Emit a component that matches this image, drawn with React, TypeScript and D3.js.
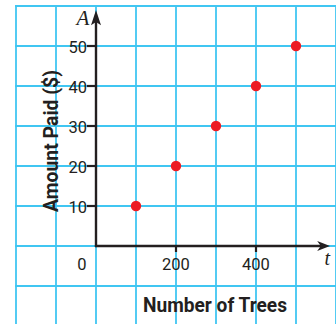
import React from "react";
import * as d3 from "d3";

const trees = [100, 200, 300, 400, 500];
const paid = [10, 20, 30, 40, 50];
const xTickValues = [200, 400];
const yTickValues = [10, 20, 30, 40, 50];
const xGridValues = [-200, -100, 0, 100, 200, 300, 400, 500, 600];
const yGridValues = [-20, -10, 0, 10, 20, 30, 40, 50, 60];

const W = 336;
const H = 324;

export default function App() {
  const x = d3.scaleLinear().domain([0, 100]).range([96, 136]);
  const y = d3.scaleLinear().domain([0, 10]).range([246, 206]);
  const gridColor = "#40c6f2";
  const ink = "#231f20";
  const gridTop = y(60);
  const gridLeft = x(-200);
  const gridRight = x(600);
  const tickFont = "Roboto, 'Open Sans', sans-serif";
  const x0 = x(0);
  const y0 = y(0);
  return (
    <svg
      width={W}
      height={H}
      style={{ position: "absolute", left: 0, top: 0, background: "#fff" }}
    >
      {/* grid */}
      {xGridValues.map((v) => (
        <line
          key={"gx" + v}
          x1={x(v)}
          x2={x(v)}
          y1={gridTop - 0.9}
          y2={H}
          stroke={gridColor}
          strokeWidth={1.8}
        />
      ))}
      {yGridValues.map((v) => (
        <line
          key={"gy" + v}
          x1={gridLeft - 0.9}
          x2={gridRight}
          y1={y(v)}
          y2={y(v)}
          stroke={gridColor}
          strokeWidth={1.8}
        />
      ))}
      {/* axes */}
      <line x1={x0} x2={x0} y1={y0 + 1.1} y2={y(56)} stroke={ink} strokeWidth={2.4} />
      <path
        d={`M${x0},${y(59)} L${x0 - 5},${y(55.2)} L${x0},${y(56)} L${x0 + 5},${y(55.2)} Z`}
        fill={ink}
      />
      <line x1={x0 - 1.1} x2={x(565)} y1={y0} y2={y0} stroke={ink} strokeWidth={2.4} />
      <path
        d={`M${x(585)},${y0} L${x(553)},${y0 - 5} L${x(562)},${y0} L${x(553)},${y0 + 5} Z`}
        fill={ink}
      />
      {/* y ticks */}
      {yTickValues.map((v) => (
        <g key={"yt" + v}>
          <line x1={x0 - 9} x2={x0} y1={y(v)} y2={y(v)} stroke={ink} strokeWidth={2.2} />
          <text
            x={x0 - 9}
            y={y(v) + 1.5}
            textAnchor="end"
            dominantBaseline="central"
            fontFamily={tickFont}
            fontSize={16.5}
            fill={ink}
          >
            {v}
          </text>
        </g>
      ))}
      {/* x ticks */}
      {xTickValues.map((v) => (
        <g key={"xt" + v}>
          <line x1={x(v)} x2={x(v)} y1={y0 - 1} y2={y0 + 6} stroke={ink} strokeWidth={2.2} />
          <text
            x={x(v)}
            y={y0 + 24}
            textAnchor="middle"
            fontFamily={tickFont}
            fontSize={16.5}
            fill={ink}
          >
            {v}
          </text>
        </g>
      ))}
      <text
        x={x(-35)}
        y={y0 + 24}
        textAnchor="middle"
        fontFamily={tickFont}
        fontSize={16.5}
        fill={ink}
      >
        0
      </text>
      {/* variable labels */}
      <text
        x={x(-33)}
        y={25}
        textAnchor="middle"
        fontFamily="'Liberation Serif', serif"
        fontStyle="italic"
        fontSize={21}
        fill={ink}
      >
        A
      </text>
      <text
        x={x(578)}
        y={y0 + 19}
        textAnchor="middle"
        fontFamily="'Liberation Serif', serif"
        fontStyle="italic"
        fontSize={20}
        fill={ink}
      >
        t
      </text>
      {/* axis titles */}
      <text
        transform={`translate(${58},${141}) rotate(-90)`}
        textAnchor="middle"
        fontFamily={tickFont}
        fontWeight="bold"
        fontSize={20}
        textLength={142}
        lengthAdjust="spacingAndGlyphs"
        fill={ink}
      >
        Amount Paid ($)
      </text>
      <text
        x={215}
        y={312}
        textAnchor="middle"
        fontFamily={tickFont}
        fontWeight="bold"
        fontSize={20}
        textLength={144}
        lengthAdjust="spacingAndGlyphs"
        fill={ink}
      >
        Number of Trees
      </text>
      {/* points */}
      {trees.map((t, i) => (
        <circle key={"p" + i} cx={x(t)} cy={y(paid[i])} r={5.2} fill="#ec1c24" />
      ))}
    </svg>
  );
}
